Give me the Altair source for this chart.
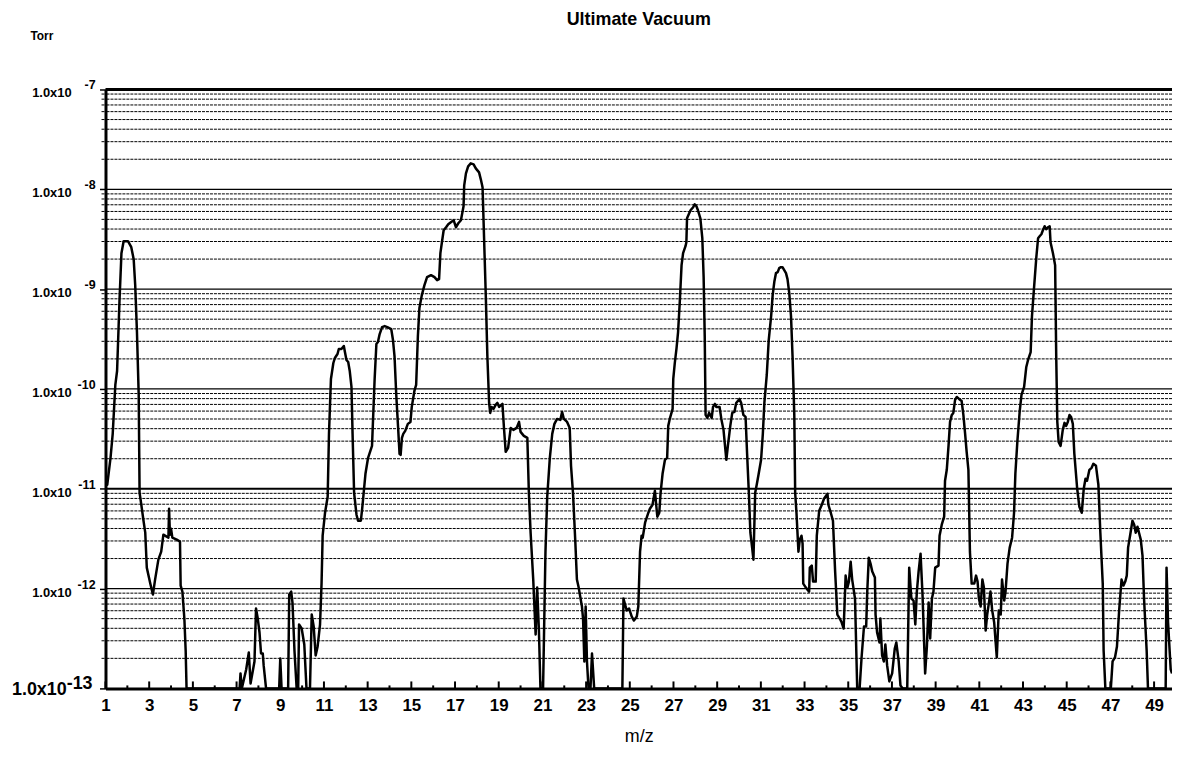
import altair as alt
import pandas as pd

FONT = "Liberation Sans"

# m/z positions of the traced spectrum
mz = [
    1.00, 1.08, 1.23, 1.33, 1.45, 1.53, 1.64, 1.73, 1.83, 2.03, 2.18, 2.29, 2.36, 2.44, 2.52, 2.56,
    2.64, 2.74, 2.82, 2.89, 3.05, 3.17, 3.27, 3.42, 3.55, 3.62, 3.65, 3.80, 3.88, 3.91, 3.95, 4.00,
    4.06, 4.26, 4.41, 4.44, 4.52, 4.61, 4.67, 4.71, 7.14, 7.18, 7.24, 7.44, 7.56, 7.64, 7.82, 7.89,
    7.97, 8.05, 8.12, 8.20, 8.24, 8.35, 8.95, 9.00, 9.06, 9.36, 9.41, 9.50, 9.56, 9.65, 9.75, 9.82,
    9.86, 9.98, 10.10, 10.20, 10.36, 10.44, 10.53, 10.62, 10.71, 10.82, 10.89, 10.94, 11.05, 11.17,
    11.23, 11.32, 11.43, 11.50, 11.62, 11.68, 11.80, 11.91, 11.96, 12.03, 12.11, 12.18, 12.26, 12.31,
    12.38, 12.49, 12.56, 12.69, 12.75, 12.81, 12.90, 13.02, 13.14, 13.20, 13.32, 13.40, 13.47, 13.55,
    13.66, 13.78, 13.90, 14.08, 14.16, 14.23, 14.31, 14.39, 14.46, 14.51, 14.57, 14.63, 14.72, 14.84,
    14.96, 15.02, 15.14, 15.22, 15.30, 15.37, 15.48, 15.60, 15.72, 15.90, 16.06, 16.18, 16.27, 16.33,
    16.40, 16.48, 16.59, 16.69, 16.81, 16.94, 17.04, 17.15, 17.27, 17.39, 17.42, 17.50, 17.60, 17.72,
    17.85, 17.95, 18.10, 18.18, 18.26, 18.33, 18.41, 18.48, 18.56, 18.61, 18.67, 18.76, 18.86, 18.94,
    19.02, 19.17, 19.24, 19.32, 19.43, 19.55, 19.67, 19.82, 19.93, 20.00, 20.15, 20.31, 20.38, 20.46,
    20.58, 20.69, 20.76, 20.84, 20.91, 21.03, 21.14, 21.22, 21.34, 21.45, 21.55, 21.67, 21.82, 21.90,
    21.98, 22.13, 22.25, 22.31, 22.40, 22.51, 22.58, 22.66, 22.81, 22.86, 22.92, 22.98, 23.04, 23.11,
    23.20, 23.27, 23.37, 24.66, 24.71, 24.86, 24.97, 25.09, 25.19, 25.32, 25.39, 25.47, 25.54, 25.59,
    25.70, 25.85, 25.92, 26.04, 26.15, 26.26, 26.35, 26.41, 26.50, 26.61, 26.71, 26.76, 26.83, 26.96,
    26.99, 27.06, 27.14, 27.21, 27.29, 27.37, 27.44, 27.55, 27.59, 27.62, 27.72, 27.78, 27.90, 27.97,
    28.05, 28.12, 28.23, 28.32, 28.38, 28.43, 28.47, 28.55, 28.63, 28.75, 28.81, 28.90, 28.96, 29.11,
    29.19, 29.29, 29.42, 29.49, 29.60, 29.69, 29.79, 29.87, 30.02, 30.10, 30.20, 30.30, 30.37, 30.45,
    30.52, 30.60, 30.66, 30.74, 30.81, 30.90, 31.01, 31.09, 31.16, 31.27, 31.36, 31.47, 31.54, 31.62,
    31.69, 31.77, 31.84, 31.92, 31.99, 32.07, 32.15, 32.22, 32.30, 32.38, 32.45, 32.53, 32.57, 32.63,
    32.72, 32.78, 32.86, 32.91, 32.94, 33.06, 33.13, 33.21, 33.24, 33.33, 33.39, 33.51, 33.56, 33.67,
    33.79, 33.89, 34.05, 34.09, 34.20, 34.30, 34.40, 34.50, 34.61, 34.70, 34.79, 34.88, 34.96, 35.03,
    35.11, 35.18, 35.31, 35.41, 35.52, 35.61, 35.72, 35.82, 35.87, 35.94, 36.02, 36.10, 36.22, 36.25,
    36.32, 36.43, 36.47, 36.55, 36.63, 36.70, 36.78, 36.88, 37.01, 37.13, 37.20, 37.31, 37.39, 37.49,
    37.70, 37.79, 37.89, 37.99, 38.07, 38.14, 38.22, 38.31, 38.40, 38.52, 38.60, 38.68, 38.75, 38.83,
    38.90, 38.98, 39.13, 39.18, 39.28, 39.39, 39.43, 39.51, 39.59, 39.66, 39.74, 39.81, 39.89, 39.97,
    40.07, 40.19, 40.27, 40.35, 40.42, 40.50, 40.57, 40.65, 40.77, 40.85, 40.92, 40.98, 41.06, 41.14,
    41.21, 41.29, 41.36, 41.44, 41.51, 41.59, 41.68, 41.80, 41.89, 41.98, 42.04, 42.14, 42.20, 42.29,
    42.39, 42.50, 42.59, 42.65, 42.74, 42.85, 42.93, 43.05, 43.15, 43.23, 43.35, 43.41, 43.50, 43.61,
    43.69, 43.76, 43.84, 43.91, 43.99, 44.06, 44.14, 44.22, 44.26, 44.37, 44.47, 44.52, 44.57, 44.63,
    44.72, 44.82, 44.90, 44.97, 45.05, 45.13, 45.20, 45.28, 45.35, 45.48, 45.58, 45.69, 45.78, 45.86,
    45.93, 46.04, 46.14, 46.22, 46.34, 46.45, 46.54, 46.65, 46.69, 46.77, 47.02, 47.10, 47.21, 47.30,
    47.40, 47.51, 47.60, 47.68, 47.75, 47.81, 47.90, 48.01, 48.09, 48.16, 48.24, 48.31, 48.39, 48.47,
    48.54, 48.66, 48.72, 49.53, 49.57, 49.64, 49.76, 49.82,
]

# log10 of the pressure (Torr) read at each m/z position (1e-13 = floor of the plot)
log_torr = [
    -10.97, -10.96, -10.69, -10.45, -9.96, -9.82, -9.12, -8.64, -8.52, -8.52, -8.58, -8.70, -8.96, -9.43, -10.06, -11.04,
    -11.16, -11.32, -11.44, -11.79, -11.95, -12.06, -11.91, -11.71, -11.63, -11.51, -11.46, -11.48, -11.49, -11.20, -11.46, -11.40,
    -11.49, -11.51, -11.53, -11.97, -12.03, -12.30, -12.62, -13.0, -13.0, -12.85, -13.0, -12.81, -12.64, -12.95, -12.73, -12.20,
    -12.30, -12.44, -12.65, -12.65, -12.77, -13.0, -13.0, -12.70, -13.0, -13.0, -12.06, -12.03, -12.14, -12.62, -13.0, -13.0,
    -12.36, -12.40, -12.56, -13.0, -13.0, -12.26, -12.38, -12.67, -12.58, -12.36, -11.95, -11.47, -11.24, -11.08,
    -10.45, -9.90, -9.74, -9.69, -9.65, -9.60, -9.60, -9.57, -9.63, -9.71, -9.73, -9.82, -9.98, -10.45,
    -11.04, -11.26, -11.32, -11.32, -11.20, -11.06, -10.85, -10.69, -10.61, -10.57, -9.90, -9.55, -9.53, -9.45,
    -9.38, -9.37, -9.38, -9.40, -9.51, -9.67, -10.06, -10.37, -10.65, -10.66, -10.49, -10.45, -10.42, -10.35,
    -10.33, -10.18, -10.02, -9.96, -9.47, -9.19, -9.06, -8.96, -8.88, -8.86, -8.88, -8.91, -8.90, -8.64,
    -8.53, -8.41, -8.38, -8.35, -8.33, -8.31, -8.38, -8.34, -8.31, -8.17, -7.96, -7.84, -7.77, -7.74,
    -7.75, -7.79, -7.83, -7.90, -7.98, -8.49, -9.08, -9.67, -10.14, -10.24, -10.18, -10.20, -10.16, -10.14,
    -10.18, -10.15, -10.39, -10.63, -10.59, -10.39, -10.41, -10.39, -10.33, -10.43, -10.47, -10.49, -11.04, -11.44,
    -11.91, -12.46, -11.99, -12.42, -13.0, -13.0, -11.63, -11.08, -10.69, -10.45, -10.35, -10.30, -10.31, -10.23,
    -10.30, -10.33, -10.39, -10.77, -11.04, -11.55, -11.91, -11.99, -12.18, -12.30, -12.73, -12.18, -12.73, -13.0,
    -13.0, -12.65, -13.0, -13.0, -12.10, -12.22, -12.20, -12.28, -12.32, -12.28, -12.18, -11.63, -11.47, -11.49,
    -11.34, -11.24, -11.20, -11.16, -11.02, -11.28, -11.24, -11.04, -10.85, -10.71, -10.69, -10.37, -10.30, -10.20,
    -9.90, -9.74, -9.59, -9.43, -9.12, -8.76, -8.64, -8.57, -8.53, -8.29, -8.24, -8.21, -8.18, -8.15,
    -8.17, -8.21, -8.29, -8.49, -8.88, -9.47, -10.26, -10.29, -10.24, -10.29, -10.18, -10.15, -10.18, -10.18,
    -10.30, -10.41, -10.71, -10.57, -10.37, -10.24, -10.23, -10.14, -10.10, -10.14, -10.26, -10.28, -10.65, -11.04,
    -11.44, -11.59, -11.71, -11.04, -10.96, -10.85, -10.71, -10.45, -10.14, -9.86, -9.51, -9.27, -9.06, -8.92,
    -8.84, -8.83, -8.79, -8.78, -8.78, -8.81, -8.84, -8.90, -9.04, -9.27, -9.67, -10.26, -11.04, -11.24,
    -11.63, -11.51, -11.47, -11.55, -11.95, -11.99, -12.01, -12.03, -11.79, -11.77, -11.93, -11.93, -11.47, -11.22,
    -11.16, -11.10, -11.05, -11.16, -11.24, -11.32, -11.83, -12.26, -12.30, -12.34, -12.40, -11.87, -11.99, -11.93,
    -11.73, -11.91, -12.10, -13.0, -13.0, -12.69, -12.38, -12.38, -12.03, -11.69, -11.75, -11.83, -11.89, -12.26,
    -12.44, -12.54, -12.30, -12.67, -12.73, -12.56, -12.77, -12.93, -12.85, -12.60, -12.54, -12.73, -12.97, -13.0,
    -13.0, -11.79, -12.10, -12.12, -12.36, -12.03, -11.83, -11.65, -12.06, -12.85, -12.58, -12.14, -12.50, -12.10,
    -12.03, -11.79, -11.77, -11.47, -11.36, -11.28, -10.92, -10.81, -10.57, -10.33, -10.26, -10.24, -10.11, -10.08,
    -10.10, -10.12, -10.26, -10.45, -10.63, -10.81, -11.63, -11.95, -11.95, -11.87, -11.93, -12.10, -12.18, -11.91,
    -11.99, -12.42, -12.26, -12.14, -12.03, -12.22, -12.34, -12.69, -12.22, -12.26, -11.91, -12.12, -12.03, -11.75,
    -11.59, -11.49, -11.24, -10.85, -10.53, -10.22, -10.06, -9.98, -9.78, -9.71, -9.63, -9.27, -9.00, -8.68,
    -8.49, -8.47, -8.45, -8.41, -8.37, -8.40, -8.38, -8.37, -8.53, -8.64, -8.76, -9.67, -10.33, -10.53,
    -10.57, -10.41, -10.34, -10.37, -10.33, -10.26, -10.28, -10.35, -10.65, -11.00, -11.18, -11.24, -11.00, -10.90,
    -10.92, -10.81, -10.79, -10.75, -10.77, -10.96, -11.44, -11.95, -12.62, -13.0, -13.0, -12.73, -12.69, -12.58,
    -12.22, -11.91, -11.97, -11.93, -11.87, -11.59, -11.47, -11.32, -11.36, -11.44, -11.38, -11.44, -11.51, -11.67,
    -12.10, -12.62, -13.0, -13.0, -11.79, -12.34, -12.81, -12.85,
]

torr = [10.0 ** e for e in log_torr]

# y axis: decades with labels, and the 2..9 minor grid values
decade_values = [1e-7, 1e-8, 1e-9, 1e-10, 1e-11, 1e-12]
decade_exps = ["-7", "-8", "-9", "-10", "-11", "-12"]
floor_value = [1e-13]
floor_exp = ["-13"]
minor_values = [k * 10.0 ** n for n in range(-13, -7) for k in range(2, 10)]
solid_values = [1e-8, 1e-9, 1e-10, 1e-12]
thick_values = [1e-11]
top_value = [1e-7]

# x axis
odd_ticks = list(range(1, 50, 2))
even_ticks = list(range(2, 50, 2))

W, H = 1072, 602

spec = pd.DataFrame({"mz": mz, "torr": torr})
xs = alt.Scale(domain=[1, 49.82], nice=False, zero=False)
ys = alt.Scale(type="log", domain=[1e-13, 1e-7], nice=False)

x_axis = alt.Axis(
    values=odd_ticks, ticks=False, grid=False, domainWidth=3, domainColor="black",
    labelFontSize=17, labelFontWeight="bold", labelFont=FONT, labelColor="black",
    labelPadding=9, labelFlush=False, labelOverlap=False,
    title="m/z", titleFontSize=18, titleFontWeight="normal", titleFont=FONT,
    titleColor="black", titlePadding=14,
)
y_axis = alt.Axis(
    values=[1e-13] + decade_values, labels=False, grid=False, ticks=True,
    tickSize=6, tickWidth=1.5, tickColor="black", domainWidth=3, domainColor="black",
    title="Torr", titleAngle=0, titleAlign="left", titleBaseline="middle",
    titleX=-76, titleY=-54, titleFontSize=12, titleFontWeight="bold", titleFont=FONT,
    titleColor="black",
)

X = alt.X("mz:Q", scale=xs, axis=x_axis)
Y = alt.Y("torr:Q", scale=ys, axis=y_axis)

def vals(values, **extra):
    d = {"torr": values}
    d.update(extra)
    return pd.DataFrame(d)

minor_grid = alt.Chart(vals(minor_values)).mark_rule(
    color="black", strokeWidth=1, strokeDash=[3, 1]
).encode(y=Y)
solid_grid = alt.Chart(vals(solid_values)).mark_rule(color="black", strokeWidth=1.2).encode(y=Y)
thick_grid = alt.Chart(vals(thick_values)).mark_rule(color="black", strokeWidth=2).encode(y=Y)
top_grid = alt.Chart(vals(top_value)).mark_rule(color="black", strokeWidth=3).encode(y=Y)

minor_yticks = alt.Chart(vals(minor_values)).mark_rule(color="black", strokeWidth=1).encode(
    y=Y, x=alt.value(-4), x2=alt.value(-1)
)

odd_xticks = alt.Chart(pd.DataFrame({"mz": odd_ticks})).mark_rule(
    color="black", strokeWidth=2
).encode(x=X, y=alt.value(H), y2=alt.value(H - 7))
even_xticks = alt.Chart(pd.DataFrame({"mz": even_ticks})).mark_rule(
    color="black", strokeWidth=2
).encode(x=X, y=alt.value(H), y2=alt.value(H - 3))

line = alt.Chart(spec).mark_line(
    color="black", strokeWidth=2.5, clip=True, strokeJoin="round"
).encode(x=X, y=Y)

lab_df = vals(decade_values, main=["1.0x10"] * len(decade_values), exp=decade_exps)
main_lab = alt.Chart(lab_df).mark_text(
    align="right", baseline="middle", fontSize=13, fontWeight="bold", font=FONT, dy=4, color="black"
).encode(y=Y, x=alt.value(-34), text="main:N")
exp_lab = alt.Chart(lab_df).mark_text(
    align="right", baseline="middle", fontSize=12.5, fontWeight="bold", font=FONT, dy=-4, color="black"
).encode(y=Y, x=alt.value(-10), text="exp:N")

floor_df = vals(floor_value, main=["1.0x10"], exp=floor_exp)
floor_main = alt.Chart(floor_df).mark_text(
    align="right", baseline="middle", fontSize=18, fontWeight="bold", font=FONT, dy=2, color="black"
).encode(y=Y, x=alt.value(-39), text="main:N")
floor_exp_lab = alt.Chart(floor_df).mark_text(
    align="right", baseline="middle", fontSize=18, fontWeight="bold", font=FONT, dy=-4, color="black"
).encode(y=Y, x=alt.value(-13), text="exp:N")

chart = alt.layer(
    minor_grid, solid_grid, thick_grid, top_grid, minor_yticks,
    line, odd_xticks, even_xticks,
    main_lab, exp_lab, floor_main, floor_exp_lab,
).properties(
    width=W, height=H,
    title=alt.TitleParams(
        "Ultimate Vacuum", fontSize=18, fontWeight="bold", font=FONT, color="black",
        anchor="middle", offset=1,
    ),
    autosize=alt.AutoSizeParams(type="none"),
    padding={"left": 98, "top": 80, "right": 0, "bottom": 60},
).configure_view(stroke=None).configure(background="white")

chart.save("out.html", embed_options={"renderer": "svg", "actions": False})
